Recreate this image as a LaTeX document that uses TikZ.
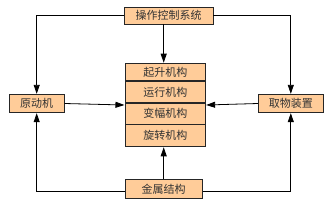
\documentclass[tikz,border=0pt]{standalone}
\usepackage{fontspec}
\newfontfamily\cjk{Noto Sans CJK SC}
\usetikzlibrary{arrows.meta,positioning,fit}
\definecolor{peach}{HTML}{FFCC99}
\tikzset{
  bx/.style={rectangle,draw=black!85,fill=peach,line width=.8pt,inner sep=0pt,
    font=\cjk\fontsize{11}{13}\selectfont,text=black!80},
  ln/.style={draw=black,line width=.8pt},
  arr/.style={-{Triangle[length=9pt,width=6pt]},line width=.8pt,draw=black},
}
\begin{document}
\begin{tikzpicture}[x=1pt,y=-1pt]
\useasboundingbox (0,0) rectangle (334,210);
% outer boxes
\node[bx,minimum width=89pt,minimum height=17pt] (ctl) at (168.5,15.5) {操作控制系统};
\node[bx,minimum width=55pt,minimum height=18.5pt] (src) at (36.7,103.5) {原动机};
\node[bx,minimum width=65pt,minimum height=18.5pt] (grab) at (290.8,103.5) {取物装置};
\node[bx,minimum width=77pt,minimum height=19pt] (base) at (163.7,189) {金属结构};
% mechanism stack
\node[bx,minimum width=80.5pt,minimum height=17.4pt] (m1) at (165.3,72.0) {起升机构};
\node[bx,minimum width=80.5pt,minimum height=21pt,below=0pt of m1] (m2) {运行机构};
\node[bx,minimum width=80.5pt,minimum height=20.6pt,below=0pt of m2] (m3) {变幅机构};
\node[bx,minimum width=80.5pt,minimum height=22pt,below=0pt of m3] (m4) {旋转机构};
\node[fit=(m1)(m4),inner sep=0pt] (stk) {};
% connectors
\draw[arr] (ctl.south -| base.north) -- (stk.north -| base.north);
\draw[arr] (base.north) -- (stk.south -| base.north);
\draw[arr] (src.east) -- (stk.west);
\draw[arr] (grab.west) -- (stk.east);
\draw[arr] (ctl.west) -| (src.north);
\draw[arr] (ctl.east) -| (grab.north);
\draw[arr] ([yshift=-2pt]base.west) -| (src.south);
\draw[arr] ([yshift=-2pt]base.east) -| (grab.south);
\end{tikzpicture}
\end{document}
